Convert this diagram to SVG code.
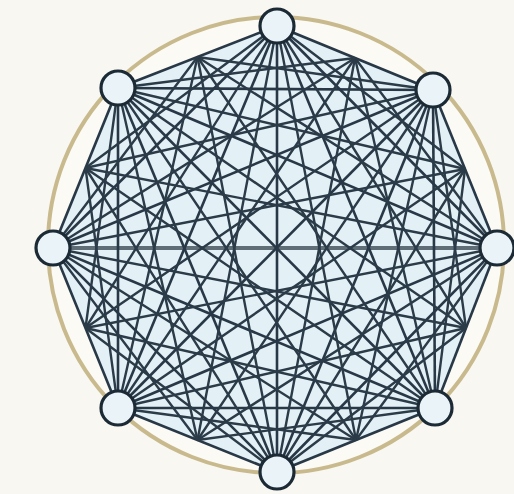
<svg xmlns="http://www.w3.org/2000/svg" width="514" height="494" viewBox="0 0 514 494">
<style>
.edge{stroke:#283846;stroke-width:2.6;fill:none}
.mid{stroke:#2b3b48;stroke-width:2.4;fill:none}
.axis{stroke:#5f6d76;stroke-width:4;fill:none}
.node{fill:#eaf4f8;stroke:#1c2a35;stroke-width:3.2}
</style>
<rect width="514" height="494" fill="#f8f7f1"/>
<circle cx="276" cy="245" r="228" fill="#fbfaf4" stroke="#c9ba8e" stroke-width="4"/>
<polygon points="277,26 433,90 497,248 435,408 277,472 118,408 53,248 118,88" fill="#e3f0f6"/>
<g id="connectors">
<line class="axis" x1="497" y1="248" x2="53" y2="248"/>
<line class="edge" x1="277" y1="26" x2="433" y2="90"/>
<line class="edge" x1="277" y1="26" x2="497" y2="248"/>
<line class="edge" x1="277" y1="26" x2="435" y2="408"/>
<line class="edge" x1="277" y1="26" x2="277" y2="472"/>
<line class="edge" x1="277" y1="26" x2="118" y2="408"/>
<line class="edge" x1="277" y1="26" x2="53" y2="248"/>
<line class="edge" x1="277" y1="26" x2="118" y2="88"/>
<line class="edge" x1="433" y1="90" x2="497" y2="248"/>
<line class="edge" x1="433" y1="90" x2="435" y2="408"/>
<line class="edge" x1="433" y1="90" x2="277" y2="472"/>
<line class="edge" x1="433" y1="90" x2="118" y2="408"/>
<line class="edge" x1="433" y1="90" x2="53" y2="248"/>
<line class="edge" x1="433" y1="90" x2="118" y2="88"/>
<line class="edge" x1="497" y1="248" x2="435" y2="408"/>
<line class="edge" x1="497" y1="248" x2="277" y2="472"/>
<line class="edge" x1="497" y1="248" x2="118" y2="408"/>
<line class="edge" x1="497" y1="248" x2="118" y2="88"/>
<line class="edge" x1="435" y1="408" x2="277" y2="472"/>
<line class="edge" x1="435" y1="408" x2="118" y2="408"/>
<line class="edge" x1="435" y1="408" x2="53" y2="248"/>
<line class="edge" x1="435" y1="408" x2="118" y2="88"/>
<line class="edge" x1="277" y1="472" x2="118" y2="408"/>
<line class="edge" x1="277" y1="472" x2="53" y2="248"/>
<line class="edge" x1="277" y1="472" x2="118" y2="88"/>
<line class="edge" x1="118" y1="408" x2="53" y2="248"/>
<line class="edge" x1="118" y1="408" x2="118" y2="88"/>
<line class="edge" x1="53" y1="248" x2="118" y2="88"/>
<path class="mid" d="M277 26L465 169M277 26L466 328M277 26L356 440M277 26L197.5 440M277 26L85.5 328M277 26L85.5 168"/>
<path class="mid" d="M433 90L466 328M433 90L356 440M433 90L197.5 440M433 90L85.5 328M433 90L85.5 168M433 90L197.5 57"/>
<path class="mid" d="M497 248L356 440M497 248L197.5 440M497 248L85.5 328M497 248L85.5 168M497 248L197.5 57M497 248L355 58"/>
<path class="mid" d="M435 408L197.5 440M435 408L85.5 328M435 408L85.5 168M435 408L197.5 57M435 408L355 58M435 408L465 169"/>
<path class="mid" d="M277 472L85.5 328M277 472L85.5 168M277 472L197.5 57M277 472L355 58M277 472L465 169M277 472L466 328"/>
<path class="mid" d="M118 408L85.5 168M118 408L197.5 57M118 408L355 58M118 408L465 169M118 408L466 328M118 408L356 440"/>
<path class="mid" d="M53 248L197.5 57M53 248L355 58M53 248L465 169M53 248L466 328M53 248L356 440M53 248L197.5 440"/>
<path class="mid" d="M118 88L355 58M118 88L465 169M118 88L466 328M118 88L356 440M118 88L197.5 440M118 88L85.5 328"/>
</g>
<g id="n1"><circle class="node" cx="277" cy="26" r="17"/></g>
<g id="n2"><circle class="node" cx="433" cy="90" r="17"/></g>
<g id="n3"><circle class="node" cx="497" cy="248" r="17"/></g>
<g id="n4"><circle class="node" cx="435" cy="408" r="17"/></g>
<g id="n5"><circle class="node" cx="277" cy="472" r="17"/></g>
<g id="n6"><circle class="node" cx="118" cy="408" r="17"/></g>
<g id="n7"><circle class="node" cx="53" cy="248" r="17"/></g>
<g id="n8"><circle class="node" cx="118" cy="88" r="17"/></g>
</svg>
